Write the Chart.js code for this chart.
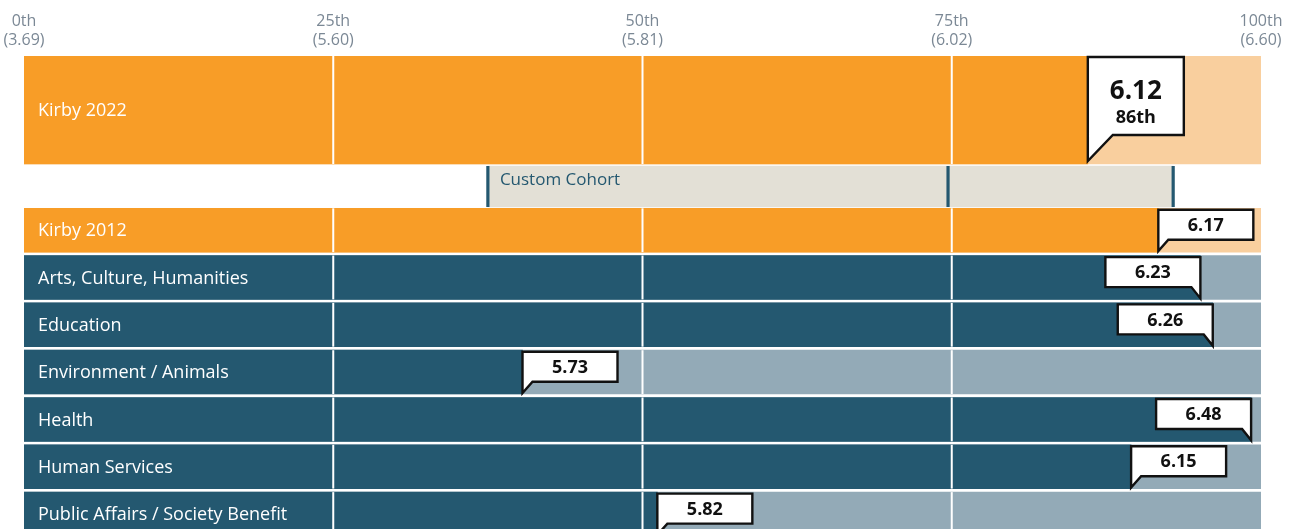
<!DOCTYPE html>
<html>
<head>
<meta charset="utf-8">
<script src="https://cdn.jsdelivr.net/npm/chart.js@4/dist/chart.umd.min.js"></script>
<style>
  html, body { margin: 0; padding: 0; overflow: hidden; background: #ffffff; }
  #wrap { width: 1294px; height: 560px; }
</style>
</head>
<body>
<div id="wrap"><canvas id="c" width="1294" height="560"></canvas></div>
<script>
// ---------------- data ----------------
const percentileTicks = [0, 25, 50, 75, 100];
const tickScores = ['3.69', '5.60', '5.81', '6.02', '6.60'];

const orgLabels = ['Kirby 2022', 'Kirby 2012'];
const orgScores = [6.12, 6.17];
const orgPercentiles = [86, 91.7];

const cohortLabel = 'Custom Cohort';
const cohortRange = [37.5, 92.9];
const cohortMarkers = [37.5, 74.7, 92.9];

const sectorLabels = ['Arts, Culture, Humanities', 'Education', 'Environment / Animals', 'Health', 'Human Services', 'Public Affairs / Society Benefit'];
const sectorScores = [6.23, 6.26, 5.73, 6.48, 6.15, 5.82];
const sectorPercentiles = [95.1, 96.1, 40.3, 99.2, 89.5, 51.2];

// ---------------- layout & style ----------------
const FONT = "'Open Sans', 'Noto Sans', sans-serif";
const ORANGE = '#f89d27', ORANGE_LIGHT = '#f9cf9e';
const TEAL = '#245870', TEAL_LIGHT = '#93aab7';
const COHORT_BG = '#e3e0d6';
const AXIS_H = 56;
const MAIN_H = 108, COHORT_TOP = 110, COHORT_H = 41;
const ROW_TOP0 = 152.3, ROW_PITCH = 47.3, ROW_H = 43.8;
const canvasH = 560;
const plotH = canvasH - AXIS_H;

const mainY = MAIN_H / 2;
const cohortY = COHORT_TOP + COHORT_H / 2;
const rowY = i => ROW_TOP0 + i * ROW_PITCH + ROW_H / 2;

const barCommon = { stack: 'rows', borderWidth: 0, borderSkipped: false, grouped: true };

const datasets = [
  // cohort markers (on top)
  { type: 'scatter', label: 'cohortMarkers', order: 0,
    data: cohortMarkers.map(v => ({ x: v, y: cohortY })),
    pointStyle: 'line', rotation: 90, radius: COHORT_H / 2, borderWidth: 3.2,
    borderColor: TEAL, backgroundColor: TEAL, clip: false },
  // Kirby 2022
  { ...barCommon, label: 'main', order: 1, barThickness: MAIN_H, maxBarThickness: MAIN_H,
    backgroundColor: ORANGE, data: [{ x: orgPercentiles[0], y: mainY }], rowKind: 'main', texts: [orgLabels[0]] },
  { ...barCommon, label: 'mainTrack', order: 5, barThickness: MAIN_H, maxBarThickness: MAIN_H,
    backgroundColor: ORANGE_LIGHT, data: [{ x: 100, y: mainY }], rowKind: 'track' },
  // cohort range
  { ...barCommon, label: 'cohort', order: 2, barThickness: COHORT_H, maxBarThickness: COHORT_H,
    backgroundColor: COHORT_BG, data: [{ x: cohortRange, y: cohortY }], rowKind: 'cohort' },
  // Kirby 2012
  { ...barCommon, label: 'org2012', order: 1, barThickness: ROW_H, maxBarThickness: ROW_H,
    backgroundColor: ORANGE, data: [{ x: orgPercentiles[1], y: rowY(0) }], rowKind: 'org', texts: [orgLabels[1]] },
  { ...barCommon, label: 'org2012Track', order: 5, barThickness: ROW_H, maxBarThickness: ROW_H,
    backgroundColor: ORANGE_LIGHT, data: [{ x: 100, y: rowY(0) }], rowKind: 'track' },
  // sectors
  { ...barCommon, label: 'sectors', order: 1, barThickness: ROW_H, maxBarThickness: ROW_H,
    backgroundColor: TEAL, data: sectorPercentiles.map((p, i) => ({ x: p, y: rowY(i + 1) })), rowKind: 'sector', texts: sectorLabels },
  { ...barCommon, label: 'sectorTracks', order: 5, barThickness: ROW_H, maxBarThickness: ROW_H,
    backgroundColor: TEAL_LIGHT, data: sectorLabels.map((l, i) => ({ x: 100, y: rowY(i + 1) })), rowKind: 'track' }
];

function callout(ctx, tipX, top, bottom, tipY, w, pointRight, off) {
  ctx.beginPath();
  if (!pointRight) {
    ctx.moveTo(tipX, top);
    ctx.lineTo(tipX + w, top);
    ctx.lineTo(tipX + w, bottom);
    ctx.lineTo(tipX + off, bottom);
    ctx.lineTo(tipX, tipY);
  } else {
    ctx.moveTo(tipX - w, top);
    ctx.lineTo(tipX, top);
    ctx.lineTo(tipX, tipY);
    ctx.lineTo(tipX - off, bottom);
    ctx.lineTo(tipX - w, bottom);
  }
  ctx.closePath();
  ctx.fillStyle = '#ffffff';
  ctx.fill();
  ctx.lineWidth = 2.4;
  ctx.strokeStyle = '#111111';
  ctx.lineJoin = 'miter';
  ctx.stroke();
  return pointRight ? tipX - w / 2 : tipX + w / 2;
}

const overlay = {
  id: 'overlay',
  afterDatasetsDraw(chart) {
    const ctx = chart.ctx;
    const xs = chart.scales.x;
    const area = chart.chartArea;
    ctx.save();
    // white percentile dividers over every row except the cohort
    chart.data.datasets.forEach((ds, di) => {
      if (ds.rowKind !== 'track') return;
      chart.getDatasetMeta(di).data.forEach(el => {
        const t = el.y - el.height / 2, b = el.y + el.height / 2;
        [25, 50, 75].forEach(v => {
          const px = xs.getPixelForValue(v);
          ctx.fillStyle = '#ffffff';
          ctx.fillRect(px - 1, t, 2, b - t);
        });
      });
    });
    // row labels
    ctx.textBaseline = 'middle';
    ctx.textAlign = 'left';
    chart.data.datasets.forEach((ds, di) => {
      if (!ds.texts) return;
      chart.getDatasetMeta(di).data.forEach((el, i) => {
        ctx.fillStyle = '#ffffff';
        ctx.font = `18px ${FONT}`;
        ctx.fillText(ds.texts[i], area.left + 14, el.y + 1);
      });
    });
    // cohort label
    chart.data.datasets.forEach((ds, di) => {
      if (ds.rowKind !== 'cohort') return;
      const el = chart.getDatasetMeta(di).data[0];
      const left = xs.getPixelForValue(cohortRange[0]);
      ctx.fillStyle = TEAL;
      ctx.font = `17px ${FONT}`;
      ctx.fillText(cohortLabel, left + 12, el.y - el.height / 2 + 14.5);
    });
    // callouts
    chart.data.datasets.forEach((ds, di) => {
      const meta = chart.getDatasetMeta(di);
      if (ds.rowKind === 'main') {
        const el = meta.data[0];
        const top = el.y - el.height / 2, bot = el.y + el.height / 2;
        const w = 96;
        const pr = el.x + w > area.right;
        const cx = callout(ctx, el.x, top + 1, top + 79, bot - 3, w, pr, 25);
        ctx.fillStyle = '#111111';
        ctx.textAlign = 'center';
        ctx.textBaseline = 'alphabetic';
        ctx.font = `bold 26px ${FONT}`;
        ctx.fillText(orgScores[0].toFixed(2), cx, top + 43);
        ctx.font = `bold 18px ${FONT}`;
        ctx.fillText(Math.round(orgPercentiles[0]) + 'th', cx, top + 67);
      } else if (ds.rowKind === 'org' || ds.rowKind === 'sector') {
        const scores = ds.rowKind === 'org' ? [orgScores[1]] : sectorScores;
        meta.data.forEach((el, i) => {
          const top = el.y - el.height / 2, bot = el.y + el.height / 2;
          const w = 95;
          const pr = el.x + w > area.right;
          const cx = callout(ctx, el.x, top + 1.5, top + 31.5, bot - 1, w, pr, pr ? 9 : 10);
          ctx.fillStyle = '#111111';
          ctx.textAlign = 'center';
          ctx.textBaseline = 'middle';
          ctx.font = `bold 18px ${FONT}`;
          ctx.fillText(scores[i].toFixed(2), cx, top + 17.5);
        });
      }
    });
    ctx.restore();
  }
};

new Chart(document.getElementById('c'), {
  type: 'bar',
  data: { datasets },
  options: {
    indexAxis: 'y',
    responsive: false,
    animation: false,
    events: [],
    layout: { autoPadding: false, padding: { left: 24, right: 33, top: 0, bottom: 0 } },
    plugins: { legend: { display: false }, tooltip: { enabled: false } },
    scales: {
      x: {
        type: 'linear', position: 'top', min: 0, max: 100, stacked: false,
        afterBuildTicks: s => { s.ticks = percentileTicks.map(v => ({ value: v })); },
        afterFit: s => { s.height = AXIS_H; s.paddingLeft = 0; s.paddingRight = 0; },
        grid: { display: false, drawTicks: false },
        border: { display: false },
        ticks: {
          autoSkip: false, maxRotation: 0, padding: 6,
          color: '#7b8895',
          font: { family: FONT, size: 16, lineHeight: 1.18 },
          callback: (v) => {
            const i = percentileTicks.indexOf(v);
            return [v + 'th', '(' + tickScores[i] + ')'];
          }
        }
      },
      y: {
        type: 'linear', display: false, reverse: true, min: 0, max: plotH, offset: false,
        grid: { display: false }
      }
    }
  },
  plugins: [overlay]
});
</script>
</body>
</html>
